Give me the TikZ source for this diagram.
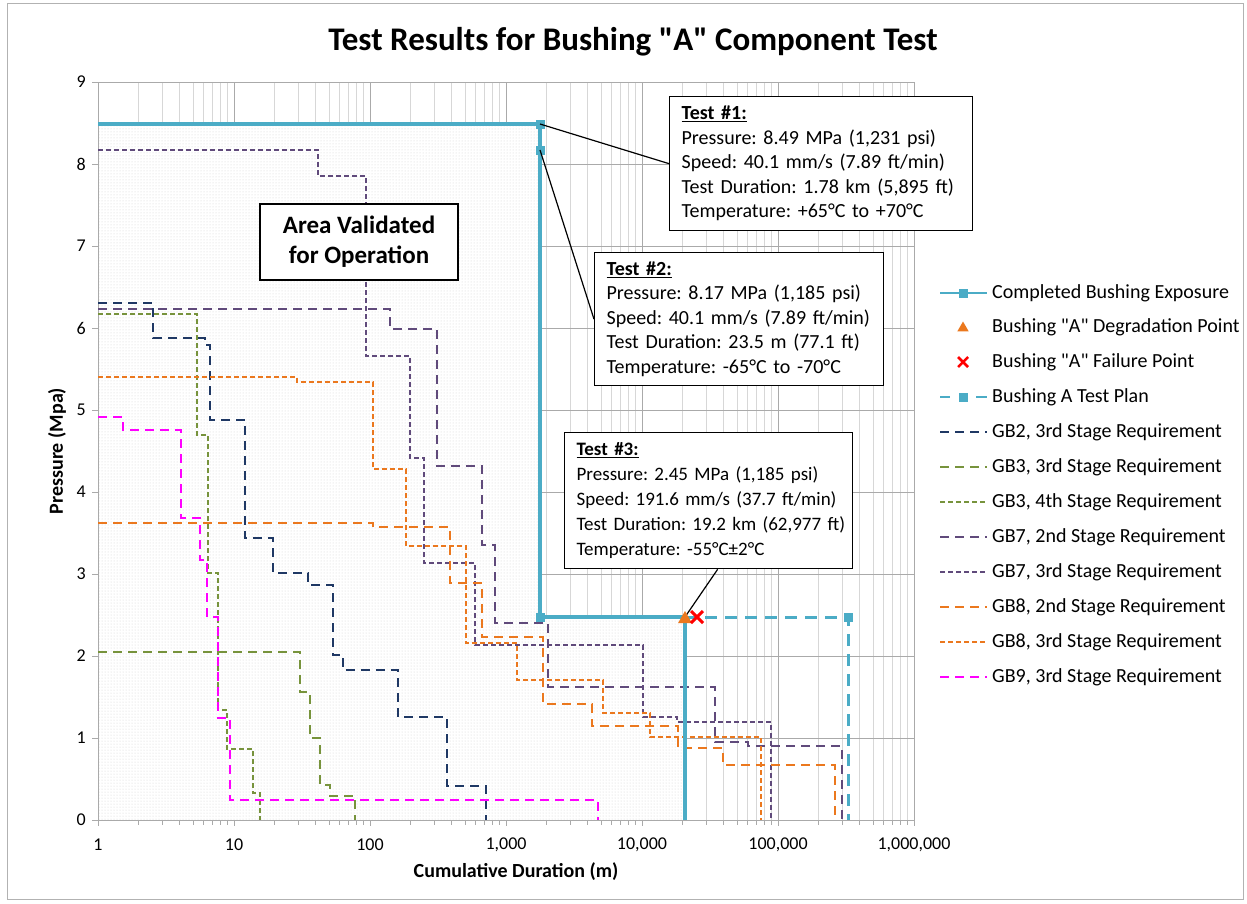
\documentclass[tikz,border=0pt]{standalone}
\usepackage{fontspec}
\setmainfont{Carlito}[Ligatures=TeXOff]
\usetikzlibrary{patterns,shapes.geometric}
\definecolor{teal1}{RGB}{75,172,198}
\definecolor{navy1}{RGB}{31,56,100}
\definecolor{olive1}{RGB}{119,147,60}
\definecolor{purp1}{RGB}{96,74,123}
\definecolor{orng1}{RGB}{235,120,30}
\definecolor{mag1}{RGB}{255,0,255}
\definecolor{red1}{RGB}{255,0,0}
\definecolor{gmaj}{RGB}{170,170,170}
\definecolor{gmin}{RGB}{215,215,215}
\newcommand\myfs[2]{\fontsize{#1}{#2}\selectfont}
\frenchspacing
\hfuzz=100pt
\begin{document}
\begin{tikzpicture}[x=1pt,y=-1pt,
  longd/.style={line width=2.2pt, dash pattern=on 9pt off 6pt},
  shortd/.style={line width=2pt, dash pattern=on 5pt off 3pt},
  expo/.style={teal1, line width=3.2pt},
  plan/.style={teal1, line width=3pt, dash pattern=on 12pt off 8pt},
  sqmark/.style={fill=teal1, draw=none, minimum size=9pt, inner sep=0pt, rectangle},
  trimark/.style={fill=orng1, draw=none, regular polygon, regular polygon sides=3, minimum size=16pt, inner sep=0pt},
  callout/.style={black, line width=1.2pt},
  infobox/.style={draw=black, line width=1.3pt, fill=white, align=left, anchor=north west,
     font=\myfs{20}{24.5}\frenchspacing, inner xsep=12pt, inner ysep=4pt},
  legtext/.style={anchor=west, font=\myfs{20}{24}, inner sep=0pt},
  minorgrid/.style={gmin, line width=0.9pt},
  majorgrid/.style={gmaj, line width=1pt},
  ticklab/.style={font=\myfs{18}{20}, inner sep=0pt}
]
\useasboundingbox (0,0) rectangle (1247,903);
\fill[white] (0,0) rectangle (1247,903);
\draw[gray!60, line width=1pt] (7,3) rectangle (1243,899);

% title
\node[font=\bfseries\myfs{33}{36}] (title) at (633,42) {Test Results for Bushing "A" Component Test};

% grid
\foreach \d in {0,...,5}{
  \foreach \k in {2,...,9}{
    \pgfmathsetmacro{\xx}{98+136*(\d+log10(\k))}
    \draw[minorgrid] (\xx,82) -- (\xx,820);
    \draw[gmaj, line width=0.9pt] (\xx,820) -- (\xx,825);
  }
}
\foreach \d in {1,...,5}{
  \draw[majorgrid] ({98+136*\d},82) -- ({98+136*\d},826);
}
\foreach \p in {1,...,8}{
  \draw[majorgrid] (98,{820-82*\p}) -- (914,{820-82*\p});
}

% validated area
\fill[white] (98,124) -- (540,124) -- (540,617) -- (685,617) -- (685,820) -- (98,820) -- cycle;
\fill[pattern=dots, pattern color=gray!35] (98,124) -- (540,124) -- (540,617) -- (685,617) -- (685,820) -- (98,820) -- cycle;

% frame and ticks
\draw[gmaj, line width=1pt] (98,82) rectangle (914,820);
\foreach \p in {0,...,9}{
  \draw[gmaj, line width=1pt] (92,{820-82*\p}) -- (98,{820-82*\p});
  \node[ticklab, anchor=east] at (86,{820-82*\p}) {\p};
}
\draw[gmaj, line width=1pt] (98,820) -- (98,826);
\draw[gmaj, line width=1pt] (914,820) -- (914,826);
\foreach \d/\lab in {0/1,1/10,2/100,3/{1,000},4/{10,000},5/{100,000},6/{1,000,000}}{
  \node[ticklab] at ({98+136*\d},845) {\lab};
}

% axis titles
\node[font=\bfseries\myfs{20}{22}] (xlab) at (516,872) {Cumulative Duration (m)};
\node[font=\bfseries\myfs{20}{22}, rotate=90] (ylab) at (57,451) {Pressure (Mpa)};

% requirement curves
\draw[navy1, longd] (98,303) -- (153,303) -- (153,338) -- (205,338) -- (205,345) -- (210,345) -- (210,420) -- (245,420) -- (245,538) -- (273,538) -- (273,573) -- (308,573) -- (308,585) -- (333,585) -- (333,655) -- (343,655) -- (343,670) -- (398,670) -- (398,717) -- (447,717) -- (447,786) -- (486,786) -- (486,820);
\draw[olive1, longd] (98,652) -- (300,652) -- (300,692) -- (310,692) -- (310,738) -- (320,738) -- (320,785) -- (330,785) -- (330,796) -- (355,796) -- (355,820);
\draw[olive1, shortd] (98,314) -- (197,314) -- (197,435) -- (208,435) -- (208,573) -- (218,573) -- (218,710) -- (227,710) -- (227,749) -- (253,749) -- (253,793) -- (260,793) -- (260,820);
\draw[purp1, longd] (98,309) -- (390,309) -- (390,329) -- (437,329) -- (437,466) -- (482,466) -- (482,545) -- (495,545) -- (495,623) -- (548,623) -- (548,687) -- (715,687) -- (715,742) -- (748,742) -- (748,746) -- (842,746) -- (842,820);
\draw[purp1, shortd] (98,150) -- (318,150) -- (318,176) -- (366,176) -- (366,356) -- (410,356) -- (410,458) -- (424,458) -- (424,563) -- (475,563) -- (475,645) -- (643,645) -- (643,717) -- (677,717) -- (677,722) -- (771,722) -- (771,820);
\draw[orng1, longd] (98,523) -- (373,523) -- (373,527) -- (450,527) -- (450,583) -- (482,583) -- (482,637) -- (543,637) -- (543,704) -- (592,704) -- (592,726) -- (678,726) -- (678,748) -- (723,748) -- (723,765) -- (835,765) -- (835,820);
\draw[orng1, shortd] (98,377) -- (297,377) -- (297,382) -- (373,382) -- (373,469) -- (406,469) -- (406,546) -- (466,546) -- (466,643) -- (517,643) -- (517,680) -- (603,680) -- (603,713) -- (650,713) -- (650,737) -- (761,737) -- (761,820);
\draw[mag1, longd] (98,417) -- (123,417) -- (123,430) -- (181,430) -- (181,518) -- (200,518) -- (200,560) -- (207,560) -- (207,617) -- (218,617) -- (218,718) -- (230,718) -- (230,800) -- (598,800) -- (598,820);

% exposure and plan
\coordinate (m1) at (540,124);
\coordinate (m2) at (540,150);
\coordinate (m3) at (540,617);
\coordinate (deg) at (685,617);
\coordinate (fail) at (697,617);
\coordinate (pend) at (848,617);
\draw[plan] (deg) -- (pend) -- (848,820);
\draw[expo] (98,124) -- (m1) -- (m3) -- (deg) -- (685,820);
\node[sqmark] at (m1) {};
\node[sqmark] at (m2) {};
\node[sqmark] at (m3) {};
\node[sqmark] at (pend) {};

% boxes
\node[infobox, text width=279pt, minimum height=134pt] (box1) at (669,96) {\textbf{\underline{Test \#1:}}\\Pressure: 8.49 MPa (1,231 psi)\\Speed: 40.1 mm/s (7.89 ft/min)\\Test Duration: 1.78 km (5,895 ft)\\Temperature: +65°C to +70°C};
\node[infobox, text width=265pt, minimum height=133pt] (box2) at (594,252) {\textbf{\underline{Test \#2:}}\\Pressure: 8.17 MPa (1,185 psi)\\\mbox{Speed: 40.1 mm/s (7.89 ft/min)}\\Test Duration: 23.5 m (77.1 ft)\\Temperature: -65°C to -70°C};
\node[infobox, font=\myfs{19}{25}\frenchspacing, text width=264pt, minimum height=136pt] (box3) at (564,432) {\textbf{\underline{Test \#3:}}\\Pressure: 2.45 MPa (1,185 psi)\\\mbox{Speed: 191.6 mm/s (37.7 ft/min)}\\\mbox{Test Duration: 19.2 km (62,977 ft)}\\Temperature: -55°C±2°C};
\node[draw=black, line width=1.3pt, fill=white, align=center, font=\bfseries\myfs{25}{30}, minimum width=198pt, minimum height=76pt, inner sep=0pt] (area) at (359,242) {Area Validated\\for Operation};

% callouts
\draw[callout] (m1) -- (box1.west);
\draw[callout] (m2) -- (box2.west);
\draw[callout] ([xshift=9pt]box3.south) -- (deg);

% points
\node[trimark] (tri) at ([yshift=-2pt]deg) {};
\draw[red1, line width=3pt] ([shift={(-6,-6)}]fail) -- ([shift={(6,6)}]fail);
\draw[red1, line width=3pt] ([shift={(-6,6)}]fail) -- ([shift={(6,-6)}]fail);

% legend
\node[legtext] (l1) at (992,293) {Completed Bushing Exposure};
\node[legtext] (l2) at (992,327) {Bushing "A" Degradation Point};
\node[legtext] (l3) at (992,362) {Bushing "A" Failure Point};
\node[legtext] (l4) at (992,397) {Bushing A Test Plan};
\node[legtext] (l5) at (992,432) {GB2, 3rd Stage Requirement};
\node[legtext] (l6) at (992,467) {GB3, 3rd Stage Requirement};
\node[legtext] (l7) at (992,502) {GB3, 4th Stage Requirement};
\node[legtext] (l8) at (992,537) {GB7, 2nd Stage Requirement};
\node[legtext] (l9) at (992,572) {GB7, 3rd Stage Requirement};
\node[legtext] (l10) at (992,607) {GB8, 2nd Stage Requirement};
\node[legtext] (l11) at (992,642) {GB8, 3rd Stage Requirement};
\node[legtext] (l12) at (992,677) {GB9, 3rd Stage Requirement};
\draw[expo, line width=2.5pt] (940,293) -- (987,293);
\node[sqmark] at (963,293) {};
\node[trimark, minimum size=13pt] at (963,328) {};
\draw[red1, line width=2.5pt] (958,357) -- (968,367);
\draw[red1, line width=2.5pt] (958,367) -- (968,357);
\draw[teal1, line width=2.5pt] (940,397) -- (950,397) (976,397) -- (987,397);
\node[sqmark] at (963,397) {};
\draw[navy1, longd] (940,432) -- (987,432);
\draw[olive1, longd] (940,467) -- (987,467);
\draw[olive1, shortd] (940,502) -- (987,502);
\draw[purp1, longd] (940,537) -- (987,537);
\draw[purp1, shortd] (940,572) -- (987,572);
\draw[orng1, longd] (940,607) -- (987,607);
\draw[orng1, shortd] (940,642) -- (987,642);
\draw[mag1, longd] (940,677) -- (987,677);
\end{tikzpicture}
\end{document}
